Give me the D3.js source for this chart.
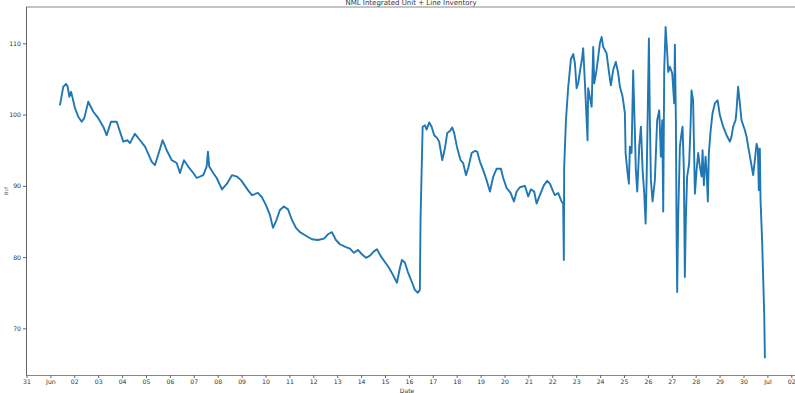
<!DOCTYPE html>
<html>
<head>
<meta charset="utf-8">
<script src="https://cdn.jsdelivr.net/npm/d3@7"></script>
<style>
  html, body { margin: 0; padding: 0; background: #fff; }
  svg { display: block; font-family: "DejaVu Sans", sans-serif; }
</style>
</head>
<body>
<svg id="chart" width="795" height="393"></svg>
<script>
// Inventory readings: hours elapsed since 31 May 00:00 and the matching level.
const startDate = new Date(2023, 4, 31, 0, 0);
const hourOffsets = [
  33.6, 36.9, 39.7, 41.4, 43.0, 44.7, 46.0, 48.7, 52.0, 55.4, 58.0, 62.0, 67.1, 72.1, 77.1, 80.5,
  84.8, 90.6, 93.9, 97.2, 101.2, 103.9, 108.9, 114.0, 119.0, 121.3, 125.7, 129.0, 136.7, 140.8,
  145.8, 150.8, 154.1, 158.1, 162.4, 167.5, 170.9, 177.5, 180.9, 182.2, 183.5, 187.5, 191.0,
  196.3, 201.3, 206.3, 211.3, 215.4, 222.4, 226.4, 232.4, 236.4, 240.5, 244.5, 247.5, 250.5,
  254.5, 258.5, 262.6, 266.6, 270.6, 274.6, 280.6, 286.6, 292.7, 298.7, 302.7, 306.7, 310.7,
  314.7, 320.8, 324.8, 328.8, 332.8, 336.8, 340.9, 344.9, 348.9, 351.9, 355.9, 359.9, 364.0,
  368.0, 372.0, 375.0, 377.0, 380.0, 383.0, 387.0, 390.0, 393.0, 395.0,
  395.7, 397.8, 400.1, 401.8, 404.4, 406.8, 409.4, 412.4, 414.4, 417.5, 420.2, 422.5, 425.2,
  427.5, 429.5, 432.5, 435.9, 438.5, 441.3, 443.6, 447.0, 450.3, 452.6, 455.3, 458.6, 462.0,
  465.4, 468.7, 472.1, 476.4, 478.7, 482.1, 486.1, 489.5, 492.2, 495.5, 500.5, 503.8, 506.5,
  509.8, 512.2, 515.5, 519.6, 522.9, 525.6, 528.9, 530.6, 533.9, 537.3, 538.9, 539.6, 539.9,
  541.7, 544.0, 546.7, 549.0, 550.7, 552.4, 554.0, 555.7, 558.0, 559.0, 560.7, 561.7, 563.4,
  564.0, 567.5, 569.1, 570.1, 572.5, 575.8, 577.5, 579.1, 582.5, 585.1, 586.8, 589.2, 591.8,
  594.2, 595.9, 598.6, 600.9, 601.6, 603.6, 604.9, 605.9, 607.6, 609.2, 610.6, 611.9, 613.3,
  615.3, 617.0, 618.7, 620.3, 621.7, 622.7, 623.7, 625.0, 626.0, 627.0, 628.7, 631.0, 633.3,
  635.4, 637.0, 638.4, 639.4, 640.4, 641.8, 643.4, 644.4, 646.1, 648.4, 650.4, 651.1, 652.1,
  652.8, 653.4, 654.4, 656.1, 657.8, 658.8, 660.1, 661.1, 662.1, 663.4, 665.4, 666.8, 667.8,
  669.4, 671.2, 672.9, 674.5, 676.2, 677.9, 678.9, 680.2, 681.9, 682.9, 684.2, 685.2, 686.9,
  688.9, 691.3, 694.0, 696.3, 699.6, 703.0, 706.3, 708.0, 709.6, 712.0, 713.0, 714.6, 716.3,
  718.0, 721.4, 723.1, 724.7, 727.1, 729.7, 731.4, 733.1, 734.4, 735.4, 736.4, 737.1, 738.8,
  739.8, 740.8, 741.5
];
const inventory = [
  101.3, 103.9, 104.3, 103.9, 102.5, 103.2, 102.5, 100.9, 99.7, 99.0, 99.5, 101.8, 100.4, 99.5, 98.3, 97.1,
  99.0, 99.0, 97.6, 96.2, 96.4, 96.0, 97.3, 96.4, 95.5, 94.8, 93.4, 92.9, 96.4, 95.0,
  93.6, 93.2, 91.8, 93.6, 92.7, 91.8, 91.1, 91.5, 92.7, 94.8, 92.7, 91.8, 91.1,
  89.5, 90.3, 91.5, 91.3, 90.8, 89.4, 88.7, 89.0, 88.4, 87.3, 85.9, 84.1, 85.0,
  86.6, 87.1, 86.7, 85.2, 84.1, 83.5, 83.0, 82.5, 82.4, 82.6, 83.2, 83.5, 82.4,
  81.8, 81.4, 81.2, 80.6, 81.0, 80.4, 79.9, 80.2, 80.8, 81.1, 80.1, 79.3, 78.5,
  77.5, 76.4, 78.5, 79.6, 79.2, 77.9, 76.5, 75.4, 75.0, 75.4,
  85.4, 98.3, 98.5, 97.9, 98.9, 98.3, 97.1, 96.7, 96.2, 93.6, 95.3, 97.4, 97.7,
  98.2, 97.4, 95.3, 93.6, 93.2, 91.5, 92.5, 94.6, 94.9, 94.8, 93.4, 92.2, 90.8,
  89.2, 91.3, 92.4, 92.4, 91.1, 89.7, 89.0, 87.8, 89.2, 89.8, 90.0, 88.5, 89.5,
  89.2, 87.5, 88.7, 90.1, 90.7, 90.3, 89.2, 88.7, 89.0, 87.8, 87.5, 79.6, 92.5,
  99.2, 103.9, 107.8, 108.5, 107.2, 103.7, 104.4, 106.0, 108.0, 109.3, 104.6, 101.6, 96.4,
  103.7, 101.1, 109.5, 104.4, 106.3, 110.0, 110.9, 109.5, 108.6, 105.8, 104.1, 106.3, 107.4,
  105.8, 103.9, 102.5, 100.2, 94.6, 91.8, 90.3, 95.5, 94.6, 106.2, 99.2, 92.2, 89.2,
  95.5, 98.3, 92.2, 89.0, 84.7, 90.8, 99.2, 110.7, 99.2, 90.8, 87.8, 90.8, 99.2,
  100.6, 94.1, 99.2, 86.4, 106.3, 112.3, 108.6, 106.0, 106.7, 105.8, 101.6, 109.8, 99.2,
  83.3, 75.1, 85.4, 95.5, 97.4, 98.3, 92.2, 77.2, 85.4, 91.3, 93.1, 98.3, 103.4,
  102.0, 88.9, 92.2, 94.6, 92.7, 91.3, 95.0, 90.1, 94.1, 92.2, 87.8, 94.6, 97.6,
  100.2, 101.6, 102.0, 99.9, 98.3, 97.1, 96.2, 96.9, 98.3, 99.2, 100.6, 103.9, 101.6,
  99.2, 97.8, 96.9, 95.5, 93.6, 91.5, 93.6, 95.9, 95.2, 89.4, 95.2, 88.0, 81.9,
  76.8, 72.1, 65.8
];
const yTickValues = [70, 80, 90, 100, 110];
const chartTitle = "NML Integrated Unit + Line Inventory";
const xLabel = "Date";
const yLabel = "Bcf";

const series = hourOffsets.map((h, i) => ({
  date: d3.timeMinute.offset(startDate, Math.round(h * 60)),
  value: inventory[i]
}));

const svg = d3.select("#chart");
const plot = { left: 26, right: 796, top: 7, bottom: 375 };

const x = d3.scaleTime()
  .domain([startDate, d3.timeDay.offset(startDate, 32)])
  .range([26.5, 26.5 + 32 * 23.9]);
const y = d3.scaleLinear()
  .domain([63.45, 115.1])
  .range([plot.bottom, plot.top]);

// Line
const line = d3.line()
  .x(d => x(d.date))
  .y(d => y(d.value));

svg.append("path")
  .datum(series)
  .attr("fill", "none")
  .attr("stroke", "#1f77b4")
  .attr("stroke-width", 1.9)
  .attr("stroke-linejoin", "round")
  .attr("d", line);

// Frame
svg.append("line")
  .attr("x1", plot.left).attr("x2", plot.right + 10)
  .attr("y1", plot.top).attr("y2", plot.top)
  .attr("stroke", "#888").attr("stroke-width", 1);

// Axes
const dayTicks = d3.timeDay.range(startDate, d3.timeDay.offset(startDate, 33));
const fmtTick = d => d.getDate() === 1 ? d3.timeFormat("%b")(d) : d3.timeFormat("%d")(d);

const xAxis = svg.append("g")
  .attr("transform", `translate(0,${plot.bottom})`)
  .call(d3.axisBottom(x).tickValues(dayTicks).tickFormat(fmtTick).tickSize(3).tickPadding(1.5).tickSizeOuter(0));
xAxis.select(".domain").attr("d", `M${plot.left},0.5H${plot.right + 10}`).attr("stroke", "#888");

const yAxis = svg.append("g")
  .attr("transform", `translate(${plot.left},0)`)
  .call(d3.axisLeft(y).tickValues(yTickValues).tickSize(3).tickPadding(2).tickSizeOuter(0));
yAxis.select(".domain").attr("d", `M0.5,${plot.top}V${plot.bottom}`).attr("stroke", "#666");

svg.selectAll(".tick line").attr("stroke", "#666");
svg.selectAll(".tick text").attr("fill", "#333").style("font-size", "6.2px").style("font-family", "DejaVu Sans, sans-serif");

// Labels
svg.append("text")
  .attr("x", 411).attr("y", 5)
  .attr("text-anchor", "middle")
  .attr("fill", "#333")
  .style("font-size", "7px")
  .text(chartTitle);

svg.append("text")
  .attr("x", 407).attr("y", 392.5)
  .attr("text-anchor", "middle")
  .attr("fill", "#333")
  .style("font-size", "6px")
  .text(xLabel);

svg.append("text")
  .attr("transform", "translate(8,191) rotate(-90)")
  .attr("text-anchor", "middle")
  .attr("fill", "#555")
  .style("font-size", "5px")
  .text(yLabel);
</script>
</body>
</html>
